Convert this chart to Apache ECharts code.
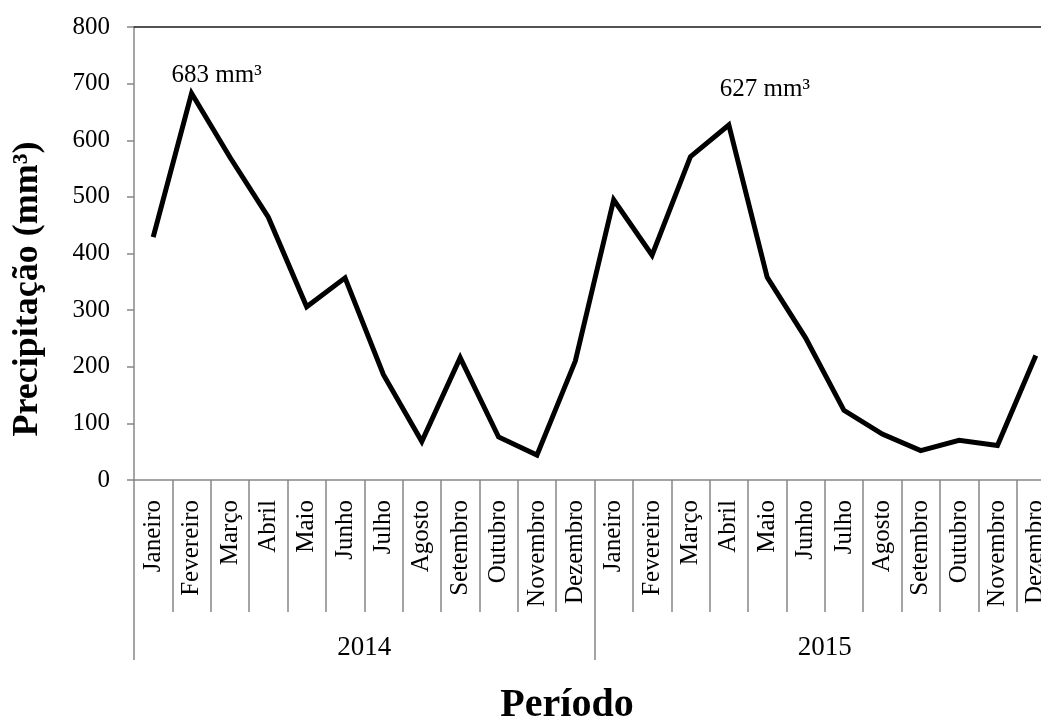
<!DOCTYPE html>
<html>
<head>
<meta charset="utf-8">
<script src="https://cdn.jsdelivr.net/npm/echarts@6/dist/echarts.min.js"></script>
<style>
  html, body { margin: 0; padding: 0; background: #fff; }
  #chart { width: 1041px; height: 722px; }
</style>
</head>
<body>
<div id="chart"></div>
<script>
const months = ['Janeiro', 'Fevereiro', 'Março', 'Abril', 'Maio', 'Junho',
    'Julho', 'Agosto', 'Setembro', 'Outubro', 'Novembro', 'Dezembro'];
const years = ['2014', '2015'];
const rain2014 = [429, 683, 570, 464, 306, 357, 186, 68, 216, 76, 44, 210];
const rain2015 = [495, 397, 571, 627, 358, 251, 123, 81, 52, 70, 61, 220];
const yTicks = [0, 100, 200, 300, 400, 500, 600, 700, 800];
// picos anotados no grafico
const notes = [
    { index: 1, text: '683 mm³', offset: [25, 0] },
    { index: 15, text: '627 mm³', offset: [36, -18] }
];

const serif = '"Liberation Serif", "DejaVu Serif", serif';
const gray = '#878787';

var categories = [];
years.forEach(y => months.forEach(m => categories.push(m)));

var values = rain2014.concat(rain2015);

var marks = notes.map(n => ({
    coord: [n.index, values[n.index]],
    label: { offset: n.offset, formatter: n.text }
}));

var myChart = echarts.init(document.getElementById('chart'));
var option = {
    animation: false,
    grid: {
        left: 134,
        right: -14,
        top: 27,
        bottom: 242,
        containLabel: false,
        outerBoundsMode: 'none'
    },
    xAxis: [
        {
            type: 'category',
            data: categories,
            position: 'bottom',
            boundaryGap: true,
            axisLine: { show: true, lineStyle: { color: gray, width: 1.5 } },
            axisTick: { show: true, interval: 0, length: 132, lineStyle: { color: gray, width: 1.5 } },
            axisLabel: {
                rotate: 90,
                interval: 0,
                margin: 20,
                color: '#000',
                fontFamily: serif,
                fontSize: 25
            }
        },
        {
            type: 'category',
            data: years,
            position: 'bottom',
            boundaryGap: true,
            axisLine: { show: false },
            axisTick: { show: true, interval: 0, length: 180, lineStyle: { color: gray, width: 1.5 } },
            axisLabel: {
                interval: 0,
                margin: 154,
                color: '#000',
                fontFamily: serif,
                fontSize: 27
            }
        },
        {
            type: 'category',
            data: years,
            position: 'top',
            axisLine: { show: true, lineStyle: { color: '#1a1a1a', width: 1.5 } },
            axisTick: { show: false },
            axisLabel: { show: false }
        }
    ],
    yAxis: {
        type: 'value',
        min: yTicks[0],
        max: yTicks[yTicks.length - 1],
        interval: 100,
        axisLine: { show: true, lineStyle: { color: gray, width: 1.5 } },
        axisTick: { show: true, length: 7, lineStyle: { color: gray, width: 1.5 } },
        splitLine: { show: false },
        axisLabel: {
            margin: 24,
            color: '#000',
            fontFamily: serif,
            fontSize: 25
        }
    },
    series: [
        {
            name: 'Precipitação',
            type: 'line',
            xAxisIndex: 0,
            data: values,
            symbol: 'none',
            lineStyle: { color: '#000', width: 5, join: 'miter', cap: 'butt' },
            markPoint: {
                symbol: 'circle',
                symbolSize: 0,
                label: {
                    show: true,
                    position: 'top',
                    distance: 5,
                    color: '#000',
                    fontFamily: serif,
                    fontSize: 25
                },
                data: marks
            }
        }
    ],
    graphic: [
        {
            type: 'text',
            x: 28,
            y: 289,
            rotation: Math.PI / 2,
            style: {
                text: 'Precipitação (mm³)',
                font: 'bold 36px ' + serif,
                fill: '#000',
                align: 'center',
                verticalAlign: 'middle'
            }
        },
        {
            type: 'text',
            x: 567,
            y: 706,
            style: {
                text: 'Período',
                font: 'bold 40px ' + serif,
                fill: '#000',
                align: 'center',
                verticalAlign: 'middle'
            }
        }
    ]
};
myChart.setOption(option);
</script>
</body>
</html>
